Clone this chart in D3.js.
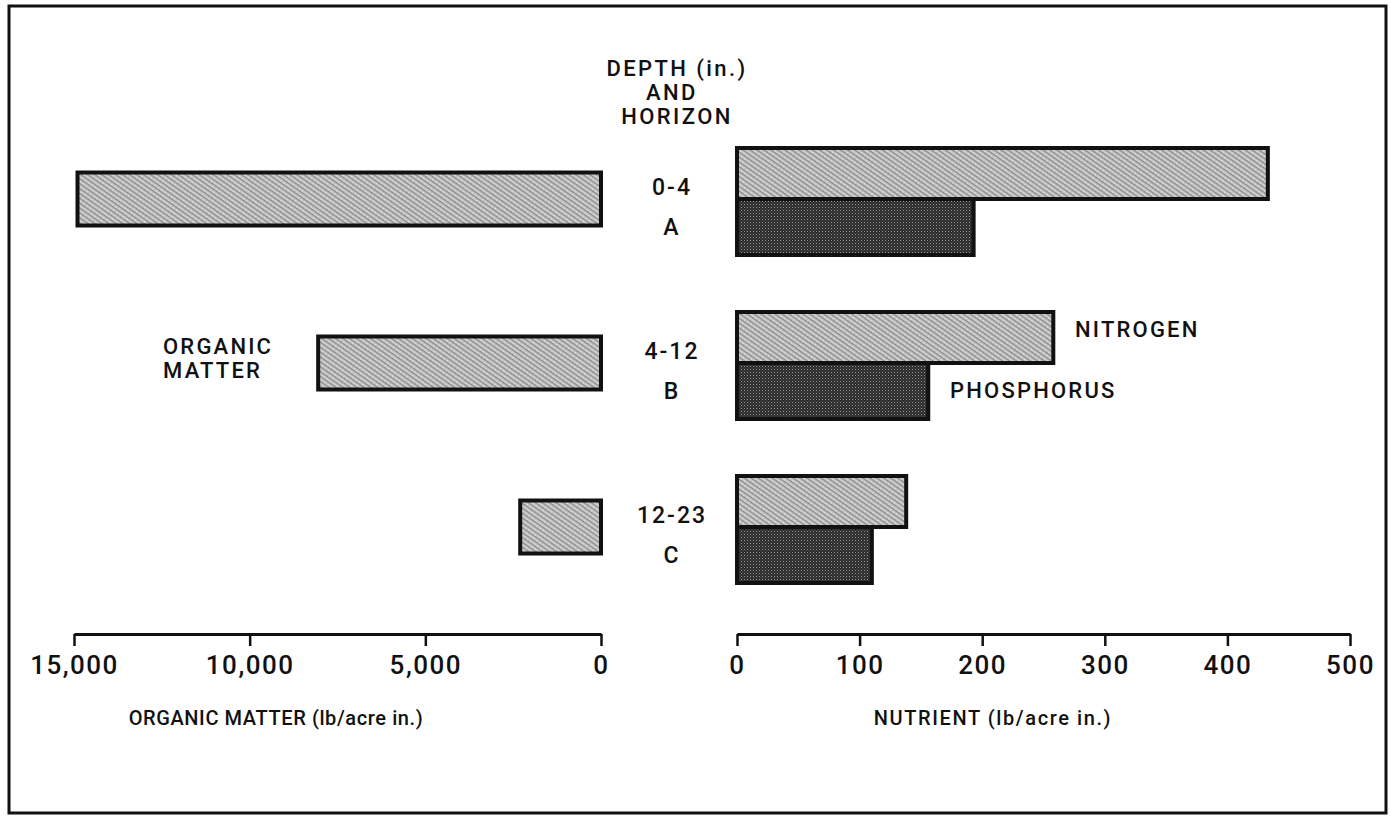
<!DOCTYPE html>
<html><head><meta charset="utf-8">
<script src="https://cdn.jsdelivr.net/npm/d3@7"></script>
<style>
html,body{margin:0;padding:0;background:#fff;}
text{font-family:Roboto,"Liberation Sans",sans-serif;font-weight:500;fill:#111;}
</style></head>
<body>
<script>
// ---- data ----
const horizons = ["A", "B", "C"];
const depths = ["0-4", "4-12", "12-23"];
const organicMatter = [14900, 8050, 2300];
const nitrogen = [433, 258, 138];
const phosphorus = [193, 156, 110];
const omTicks = [15000, 10000, 5000, 0];
const nutTicks = [0, 100, 200, 300, 400, 500];

const W = 1390, H = 817;
const svg = d3.select("body").append("svg").attr("width", W).attr("height", H);

// patterns
const defs = svg.append("defs");
const pl = defs.append("pattern").attr("id","light").attr("patternUnits","userSpaceOnUse")
  .attr("width",4).attr("height",4).attr("patternTransform","rotate(35)");
pl.append("rect").attr("width",4).attr("height",4).attr("fill","#c8c8c8");
pl.append("rect").attr("width",4).attr("height",1.3).attr("fill","#888");
pl.append("rect").attr("x",1).attr("y",2.5).attr("width",1).attr("height",1).attr("fill","#f2f2f2");
const pd = defs.append("pattern").attr("id","dark").attr("patternUnits","userSpaceOnUse")
  .attr("width",3).attr("height",3);
pd.append("rect").attr("width",3).attr("height",3).attr("fill","#2a2a2a");
pd.append("rect").attr("x",0).attr("y",0).attr("width",1).attr("height",1).attr("fill","#9a9a9a");
pd.append("rect").attr("x",1.5).attr("y",1.5).attr("width",1).attr("height",1).attr("fill","#666");

// frame
svg.append("rect").attr("x",9).attr("y",6).attr("width",1377).attr("height",807)
  .attr("fill","none").attr("stroke","#111").attr("stroke-width",3);

// scales
const xL = d3.scaleLinear().domain([0, 15000]).range([601, 74]);
const xR = d3.scaleLinear().domain([0, 500]).range([737, 1350]);
const y = d3.scaleBand().domain(horizons).range([117, 609]);
const cy = h => y(h) + y.bandwidth() / 2;
const barH = 53;

// organic matter bars
svg.selectAll(".om").data(horizons).join("rect")
  .attr("x", (h,i) => xL(organicMatter[i]))
  .attr("y", h => cy(h) - barH/2)
  .attr("width", (h,i) => xL(0) - xL(organicMatter[i]))
  .attr("height", barH)
  .attr("fill","url(#light)").attr("stroke","#111").attr("stroke-width",4);

// phosphorus bars (below)
svg.selectAll(".p").data(horizons).join("rect")
  .attr("x", xR(0))
  .attr("y", h => cy(h))
  .attr("width", (h,i) => xR(phosphorus[i]) - xR(0))
  .attr("height", 56)
  .attr("fill","url(#dark)").attr("stroke","#111").attr("stroke-width",4);
// nitrogen bars (above)
svg.selectAll(".n").data(horizons).join("rect")
  .attr("x", xR(0))
  .attr("y", h => cy(h) - 51)
  .attr("width", (h,i) => xR(nitrogen[i]) - xR(0))
  .attr("height", 51)
  .attr("fill","url(#light)").attr("stroke","#111").attr("stroke-width",4);

// axes
function styleAxis(g){
  g.select(".domain").attr("stroke","#111").attr("stroke-width",3);
  g.selectAll(".tick line").attr("stroke","#111").attr("stroke-width",2.5);
  g.selectAll(".tick text").attr("font-size",26).attr("dy","0.95em")
    .attr("font-family","Roboto, sans-serif").attr("font-weight",500)
    .attr("fill","#111").attr("letter-spacing",1.5);
}
svg.append("g").attr("transform","translate(0,634)")
  .call(d3.axisBottom(xL).tickValues(omTicks).tickFormat(d3.format(",")).tickSize(12).tickSizeOuter(0))
  .call(styleAxis);
svg.append("g").attr("transform","translate(0,634)")
  .call(d3.axisBottom(xR).tickValues(nutTicks).tickFormat(d3.format("d")).tickSize(12).tickSizeOuter(0))
  .call(styleAxis);

// axis titles
const txt = (s, x, yy, anchor="middle", size=19, ls=1.5) => svg.append("text")
  .attr("x", x).attr("y", yy).attr("text-anchor", anchor).attr("dominant-baseline","central")
  .attr("font-size", size).attr("letter-spacing", ls).text(s);
txt("ORGANIC MATTER (lb/acre in.)", 276, 718, "middle", 20, 0.6);
txt("NUTRIENT (lb/acre in.)", 993, 718, "middle", 20, 1.6);

// header
txt("DEPTH (in.)", 677, 68, "middle", 22, 2.4);
txt("AND", 672, 92, "middle", 22, 2.4);
txt("HORIZON", 677, 116, "middle", 22, 2.4);

// row labels
horizons.forEach((h,i) => {
  txt(depths[i], 672, cy(h) - 12, "middle", 23, 2);
  txt(h, 672, cy(h) + 28, "middle", 23, 2);
});

// series labels
txt("ORGANIC", 163, 346, "start", 22, 2.2);
txt("MATTER", 163, 370, "start", 22, 2.2);
txt("NITROGEN", 1075, 329, "start", 22, 2.2);
txt("PHOSPHORUS", 950, 390, "start", 22, 2.2);
</script>
</body></html>
